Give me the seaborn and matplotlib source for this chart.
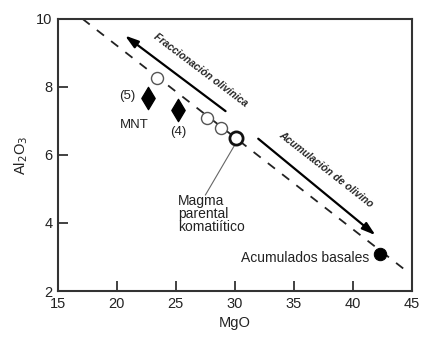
import matplotlib
matplotlib.use("Agg")
import matplotlib.pyplot as plt
import seaborn as sns
import pandas as pd

sns.set_style("ticks")
plt.rcParams['font.family'] = ['Liberation Sans', 'DejaVu Sans']

# --- data ---
trend_mgo = [17.1, 44.5]
trend_al = [10.0, 2.6]

open_mgo = [23.4, 27.6, 28.8]
open_al = [8.25, 7.08, 6.80]

parental_mgo = [30.1]
parental_al = [6.50]

cumulate_mgo = [42.3]
cumulate_al = [3.08]

mnt_mgo = [22.6, 25.2]
mnt_al = [7.68, 7.33]
mnt_labels = ['(5)', '(4)']

fig = plt.figure(figsize=(4.22, 3.38), dpi=100)
ax = fig.add_axes([0.137, 0.139, 0.839, 0.805])

sns.lineplot(x=trend_mgo, y=trend_al, ax=ax, color='#222222', lw=1.3,
             linestyle=(0, (5, 5)))

sns.scatterplot(x=open_mgo, y=open_al, ax=ax, marker='o', s=75,
                facecolor='white', edgecolor='#555555', linewidth=1.0, zorder=3)
sns.scatterplot(x=parental_mgo, y=parental_al, ax=ax, marker='o', s=90,
                facecolor='white', edgecolor='#111111', linewidth=2.0, zorder=3)
sns.scatterplot(x=cumulate_mgo, y=cumulate_al, ax=ax, marker='o', s=80,
                color='black', edgecolor='black', zorder=3)
sns.scatterplot(x=mnt_mgo, y=mnt_al, ax=ax, marker='d', s=130,
                color='black', edgecolor='black', zorder=3)

# arrows
ax.annotate('', xy=(20.5, 9.56), xytext=(29.4, 7.24),
            arrowprops=dict(arrowstyle='-|>,head_length=0.8,head_width=0.25',
                            color='black', lw=1.6))
ax.annotate('', xy=(42.1, 3.59), xytext=(31.8, 6.53),
            arrowprops=dict(arrowstyle='-|>,head_length=0.8,head_width=0.25',
                            color='black', lw=1.6))
ax.text(27.1, 8.5, 'Fraccionación olivínica', rotation=-37, fontsize=7.5,
        fontweight='bold', fontstyle='italic', ha='center', va='center')
ax.text(37.7, 5.57, 'Acumulación de olivino', rotation=-38, fontsize=7.5,
        fontweight='bold', fontstyle='italic', ha='center', va='center')

# labels
ax.text(20.85, 7.72, mnt_labels[0], fontsize=9.5, ha='center',
        va='center', color='#222222')
ax.text(25.2, 6.68, mnt_labels[1], fontsize=9.5, ha='center',
        va='center', color='#222222')
ax.text(21.5, 6.88, 'MNT', fontsize=9.5, ha='center', va='center', color='#222222')

ax.plot([30.0, 27.5], [6.30, 4.82], color='#666666', lw=0.8)
ax.text(25.2, 4.86, 'Magma\nparental\nkomatiítico', fontsize=10, ha='left',
        va='top', linespacing=0.9, color='#222222')
ax.text(41.4, 2.97, 'Acumulados basales', fontsize=10, ha='right',
        va='center', color='#222222')

ax.set_xlim(15, 45)
ax.set_ylim(2, 10)
ax.set_xticks([15, 20, 25, 30, 35, 40, 45])
ax.set_yticks([2, 4, 6, 8, 10])
ax.tick_params(direction='in', length=7, width=1.3, color='#333333',
               labelsize=10.5, labelcolor='#222222', pad=4)
for sp in ax.spines.values():
    sp.set_color('#333333')
    sp.set_linewidth(1.5)
ax.set_xlabel('MgO', fontsize=10.5, color='#222222', labelpad=4)
ax.set_ylabel('Al$_2$O$_3$', fontsize=10.5, color='#222222', labelpad=4)

fig.savefig('out.png', dpi=100)
